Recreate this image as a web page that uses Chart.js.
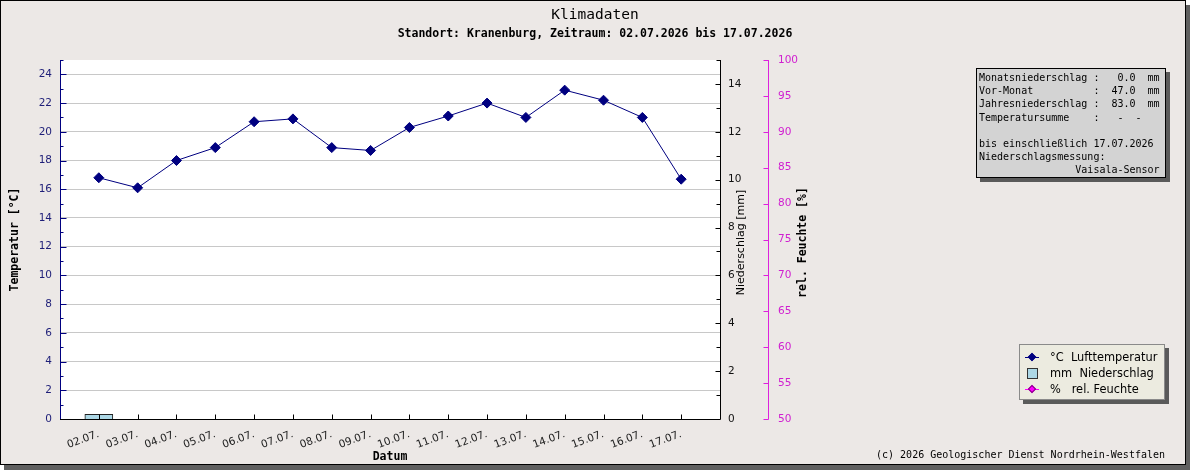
<!DOCTYPE html>
<html>
<head>
<meta charset="utf-8">
<script src="https://cdn.jsdelivr.net/npm/chart.js@4/dist/chart.umd.min.js"></script>
<style>
  html, body { margin: 0; padding: 0; background: #fff; }
  #wrap { position: relative; width: 1190px; height: 470px; overflow: hidden; }
  #frame {
    position: absolute; left: 0; top: 0; width: 1184px; height: 463px;
    background: #ece8e6; border: 1px solid #000; box-shadow: 4px 5px 0 #5f5f5f;
  }
  #chart { position: absolute; left: 0; top: 0; }
  .mono { font-family: "DejaVu Sans Mono", monospace; color: #000; position: absolute; white-space: pre; }
  #title { left: 0; top: 5px; width: 1190px; text-align: center; font-size: 14.5px; line-height: 18px; }
  #subtitle { left: 0; top: 26px; width: 1190px; text-align: center; font-size: 11.5px; font-weight: bold; line-height: 14px; }
  #footer { right: 25px; top: 449px; font-size: 10px; line-height: 12px; }
  #info {
    left: 976px; top: 68px; width: 190px; height: 110px; box-sizing: border-box;
    background: #d3d3d3; border: 1px solid #000; box-shadow: 4px 4px 0 #5a5a5a;
    font-size: 10px; line-height: 13.2px; padding: 2px 0 0 2px;
  }
  #legend {
    position: absolute; left: 1019px; top: 344px; width: 146px; height: 56px; box-sizing: border-box;
    background: #ecebe0; border: 1px solid #8a8a8a; box-shadow: 4px 4px 0 #5a5a5a;
    padding-top: 4px; font-family: "DejaVu Sans", sans-serif; font-size: 11.4px;
  }
  .row { position: relative; height: 16px; line-height: 16px; white-space: pre; }
  .row .txt { position: absolute; left: 30px; top: 0; }
  .mk { position: absolute; left: 4px; top: 0; width: 16px; height: 16px; }
  .mk .ln { position: absolute; left: 1px; right: 1px; top: 8px; height: 1px; }
  .mk .dm { position: absolute; left: 5px; top: 5px; width: 6px; height: 6px; transform: rotate(45deg); box-sizing: border-box; border: 1px solid #000; }
  .mk .sq { position: absolute; left: 3px; top: 3px; width: 11px; height: 11px; box-sizing: border-box; border: 1px solid #333; }
</style>
</head>
<body>
<div id="wrap">
  <div id="frame"></div>
  <canvas id="chart" width="1190" height="470"></canvas>
  <div id="title" class="mono">Klimadaten</div>
  <div id="subtitle" class="mono">Standort: Kranenburg, Zeitraum: 02.07.2026 bis 17.07.2026</div>
  <div id="info" class="mono">Monatsniederschlag :   0.0  mm
Vor-Monat          :  47.0  mm
Jahresniederschlag :  83.0  mm
Temperatursumme    :   -  -

bis einschließlich 17.07.2026
Niederschlagsmessung:
                Vaisala-Sensor</div>
  <div id="legend"></div>
  <div id="footer" class="mono">(c) 2026 Geologischer Dienst Nordrhein-Westfalen</div>
</div>

<script>
const days = ["02.07.", "03.07.", "04.07.", "05.07.", "06.07.", "07.07.", "08.07.", "09.07.",
  "10.07.", "11.07.", "12.07.", "13.07.", "14.07.", "15.07.", "16.07.", "17.07."];
const temps = [16.8, 16.1, 18.0, 18.9, 20.7, 20.9, 18.9, 18.7, 20.3, 21.1, 22.0, 21.0, 22.9, 22.2, 21.0, 16.7];
const rain = [0.2, 0, 0, 0, 0, 0, 0, 0, 0, 0, 0, 0, 0, 0, 0, 0];
const humidity = []; // keine Werte im Bild

const tempTicks = [0, 2, 4, 6, 8, 10, 12, 14, 16, 18, 20, 22, 24];
const rainTicks = [0, 2, 4, 6, 8, 10, 12, 14];
const humTicks = [50, 55, 60, 65, 70, 75, 80, 85, 90, 95, 100];

const navy = "#000080";
const magenta = "#dd22dd";

Chart.defaults.font.family = "DejaVu Sans";

// empty slot before the first and after the last day
const labels = ["", ...days, ""];
const pad = (arr) => [null, ...arr, null];

const axisMarks = {
  id: "axisMarks",
  beforeDraw(chart) {
    const { ctx, chartArea: a } = chart;
    ctx.save();
    ctx.fillStyle = "#fff";
    ctx.fillRect(a.left, a.top, a.right - a.left, a.bottom - a.top);
    ctx.restore();
  },
  afterDraw(chart) {
    const { ctx, chartArea: a, scales } = chart;
    const line = (x1, y1, x2, y2, c) => {
      ctx.strokeStyle = c;
      ctx.beginPath();
      ctx.moveTo(x1, y1);
      ctx.lineTo(x2, y2);
      ctx.stroke();
    };
    const py = (s, v) => Math.round(s.getPixelForValue(v)) + 0.5;
    const top = Math.round(a.top), bottom = Math.round(a.bottom) + 0.5;
    ctx.save();
    ctx.lineWidth = 1;

    // temperature axis (left)
    const L = Math.round(a.left) + 0.5;
    line(L, top, L, bottom, navy);
    for (let v = 0; v <= 25; v++) {
      const y = py(scales.y, v);
      line(L, y, L + (v % 2 === 0 ? 6 : 3), y, navy);
    }

    // date axis
    line(a.left, bottom, a.right, bottom, "#000");
    for (let i = 1; i <= days.length; i++) {
      const x = Math.round(scales.x.getPixelForValue(i)) + 0.5;
      line(x, bottom, x, bottom - 5, "#000");
    }

    // precipitation axis
    const R = Math.round(a.right) + 0.5;
    line(R, top, R, bottom, "#000");
    for (let v = 0; v <= 15; v++) {
      const y = py(scales.y1, v);
      line(R, y, R - (v % 2 === 0 ? 5 : 4), y, "#000");
    }

    // humidity axis
    const H = Math.round(scales.y2.left) - 1.5;
    line(H, top, H, bottom, magenta);
    humTicks.forEach((v) => {
      const y = py(scales.y2, v);
      line(H, y, H - 5, y, magenta);
    });

    // axis titles
    const title = (text, x, y, font, rot) => {
      ctx.save();
      ctx.translate(x, y);
      if (rot) ctx.rotate(-Math.PI / 2);
      ctx.font = font;
      ctx.fillStyle = "#000";
      ctx.textAlign = "center";
      ctx.textBaseline = "middle";
      ctx.fillText(text, 0, 0);
      ctx.restore();
    };
    const mid = (a.top + a.bottom) / 2;
    const boldMono = "bold 11.5px 'DejaVu Sans Mono'";
    title("Temperatur [°C]", 15, mid, boldMono, true);
    title("Niederschlag [mm]", scales.y1.left + 21, mid + 3, "11px 'DejaVu Sans'", true);
    title("rel. Feuchte [%]", scales.y2.left + 33, mid + 3, boldMono, true);
    title("Datum", (a.left + a.right) / 2, 457, boldMono, false);
    ctx.restore();
  }
};

const chart = new Chart(document.getElementById("chart").getContext("2d"), {
  type: "line",
  data: {
    labels: labels,
    datasets: [
      {
        label: "°C  Lufttemperatur",
        data: pad(temps),
        yAxisID: "y",
        borderColor: navy,
        backgroundColor: navy,
        borderWidth: 1,
        pointStyle: "rectRot",
        pointRadius: 5,
        pointBorderWidth: 1,
        order: 0,
      },
      {
        type: "bar",
        label: "mm  Niederschlag",
        data: pad(rain.map((v) => v || null)),
        yAxisID: "y1",
        backgroundColor: "#add8e6",
        borderColor: "#222",
        borderWidth: 1,
        barThickness: 28,
        order: 1,
      },
      {
        label: "%   rel. Feuchte",
        data: humidity,
        yAxisID: "y2",
        borderColor: "#ff00ff",
        backgroundColor: "#ff00ff",
        borderWidth: 1,
        pointStyle: "rectRot",
        pointRadius: 5,
        order: 2,
      },
    ],
  },
  options: {
    responsive: false,
    animation: false,
    layout: { padding: { left: 0, top: 60, right: 375, bottom: 0 } },
    plugins: { legend: { display: false }, tooltip: { enabled: false } },
    scales: {
      x: {
        type: "category",
        offset: false,
        grid: { display: false },
        border: { display: false },
        ticks: {
          autoSkip: false,
          minRotation: 20,
          maxRotation: 20,
          padding: 1,
          color: "#222",
          font: { size: 10.5 },
        },
        afterFit: (s) => { s.height = 51; },
      },
      y: {
        position: "left",
        min: 0,
        max: 25,
        grid: {
          drawTicks: false,
          color: (c) => (c.tick && c.tick.value > 0 && tempTicks.includes(c.tick.value) ? "#c8c8c8" : "rgba(0,0,0,0)"),
        },
        border: { display: false },
        ticks: {
          stepSize: 1,
          autoSkip: false,
          padding: 8,
          color: "#1e1e78",
          font: { size: 10.5 },
          callback: (v) => (tempTicks.includes(v) ? v : ""),
        },
        afterFit: (s) => { s.width = 60; },
      },
      y1: {
        position: "right",
        weight: 0,
        min: 0,
        max: 15,
        grid: { display: false, drawTicks: false },
        border: { display: false },
        ticks: {
          stepSize: 1,
          autoSkip: false,
          padding: 8,
          color: "#111",
          font: { size: 10.5 },
          callback: (v) => (rainTicks.includes(v) ? v : ""),
        },
        afterFit: (s) => { s.width = 50; },
      },
      y2: {
        position: "right",
        weight: 1,
        min: 50,
        max: 100,
        grid: { display: false, drawTicks: false },
        border: { display: false },
        ticks: {
          stepSize: 5,
          autoSkip: false,
          padding: 8,
          color: "#d020d0",
          font: { size: 10.5 },
          callback: (v) => (humTicks.includes(v) ? v : ""),
        },
        afterFit: (s) => { s.width = 45; },
      },
    },
  },
  plugins: [axisMarks],
});

// legend built from the datasets
const legend = document.getElementById("legend");
chart.data.datasets.forEach((ds) => {
  const row = document.createElement("div");
  row.className = "row";
  const mk = document.createElement("span");
  mk.className = "mk";
  if (ds.type === "bar") {
    mk.innerHTML = '<span class="sq" style="background:' + ds.backgroundColor + '"></span>';
  } else {
    mk.innerHTML = '<span class="ln" style="background:' + ds.borderColor + '"></span>' +
      '<span class="dm" style="background:' + ds.backgroundColor + ';border-color:' + (ds.borderColor === navy ? navy : "#800080") + '"></span>';
  }
  const txt = document.createElement("span");
  txt.className = "txt";
  txt.textContent = ds.label;
  row.appendChild(mk);
  row.appendChild(txt);
  legend.appendChild(row);
});
</script>
</body>
</html>
